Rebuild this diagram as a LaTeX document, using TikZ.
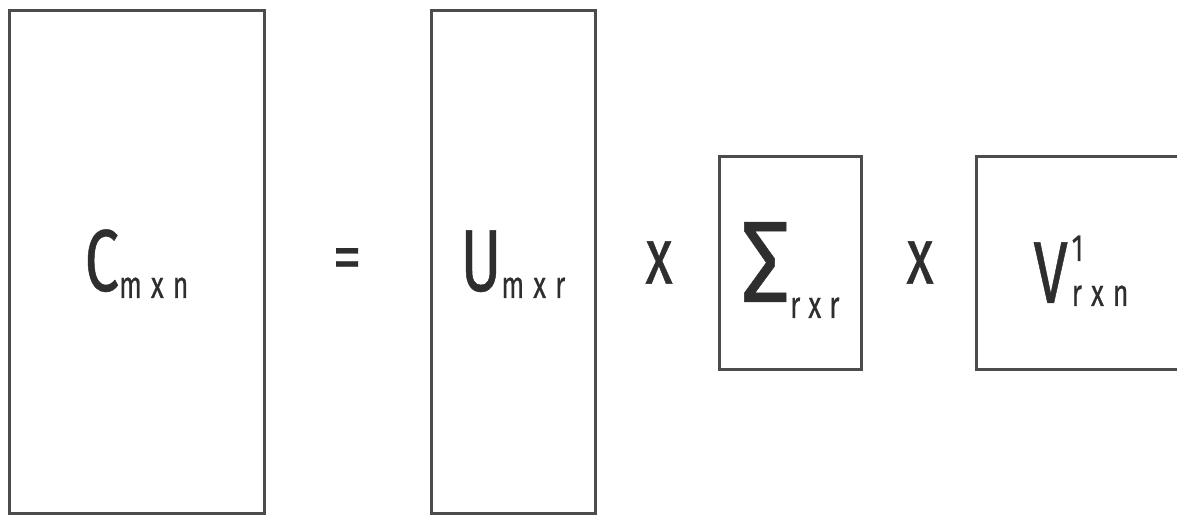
\documentclass[tikz,border=0pt]{standalone}
\usepackage{fontspec}
\setmainfont{Fira Sans}[FakeStretch=0.7, FakeBold=0.5]
\newfontfamily\opfont{Fira Sans}[FakeStretch=0.85, FakeBold=0.4]
\newcommand{\idx}[1]{{\fontsize{38}{40}\selectfont #1}}
\newcommand{\lowidx}[2]{\raisebox{-#1}{\idx{#2}}}
\begin{document}
\begin{tikzpicture}[x=1pt, y=1pt,
    mat/.style = {draw=black!70, line width=3pt, inner sep=0pt, text=black!82,
                  text height=57pt, text depth=0pt, font=\fontsize{88}{90}\selectfont},
    op/.style = {text=black!82, inner sep=0pt}]
  \useasboundingbox (0,0) rectangle (1177,516);

  % matrices
  \node[mat, minimum width=255pt, minimum height=503pt] (C) at (136.5,253.5)
       {C\lowidx{7pt}{m\hspace{9pt}x\hspace{9pt}n}};
  \node[mat, minimum width=164pt, minimum height=503pt] (U) at (513,253.5)
       {U\lowidx{7pt}{m\hspace{9pt}x\hspace{9pt}r}};
  \node[mat, minimum width=142pt, minimum height=213pt, text height=77pt] (S) at (790,252.5)
       {{\opfont\fontsize{116}{118}\selectfont Σ}\lowidx{16pt}{r\hspace{8pt}x\hspace{8pt}r}};
  \node[mat, minimum width=210pt, minimum height=213pt, text height=79pt] (V) at (1081,252.5)
       {V\hspace{4pt}\rlap{\raisebox{42pt}{\idx{1}}}\lowidx{3pt}{r\hspace{9pt}x\hspace{9pt}n}};

  % operators
  \node[op, font=\opfont\fontsize{68}{70}\selectfont] (eq) at (347,252) {=};
  \node[op, font=\fontsize{80}{82}\selectfont] (t1) at (659,253.5) {x};
  \node[op, font=\fontsize{80}{82}\selectfont] (t2) at (920,253.5) {x};
\end{tikzpicture}
\end{document}
